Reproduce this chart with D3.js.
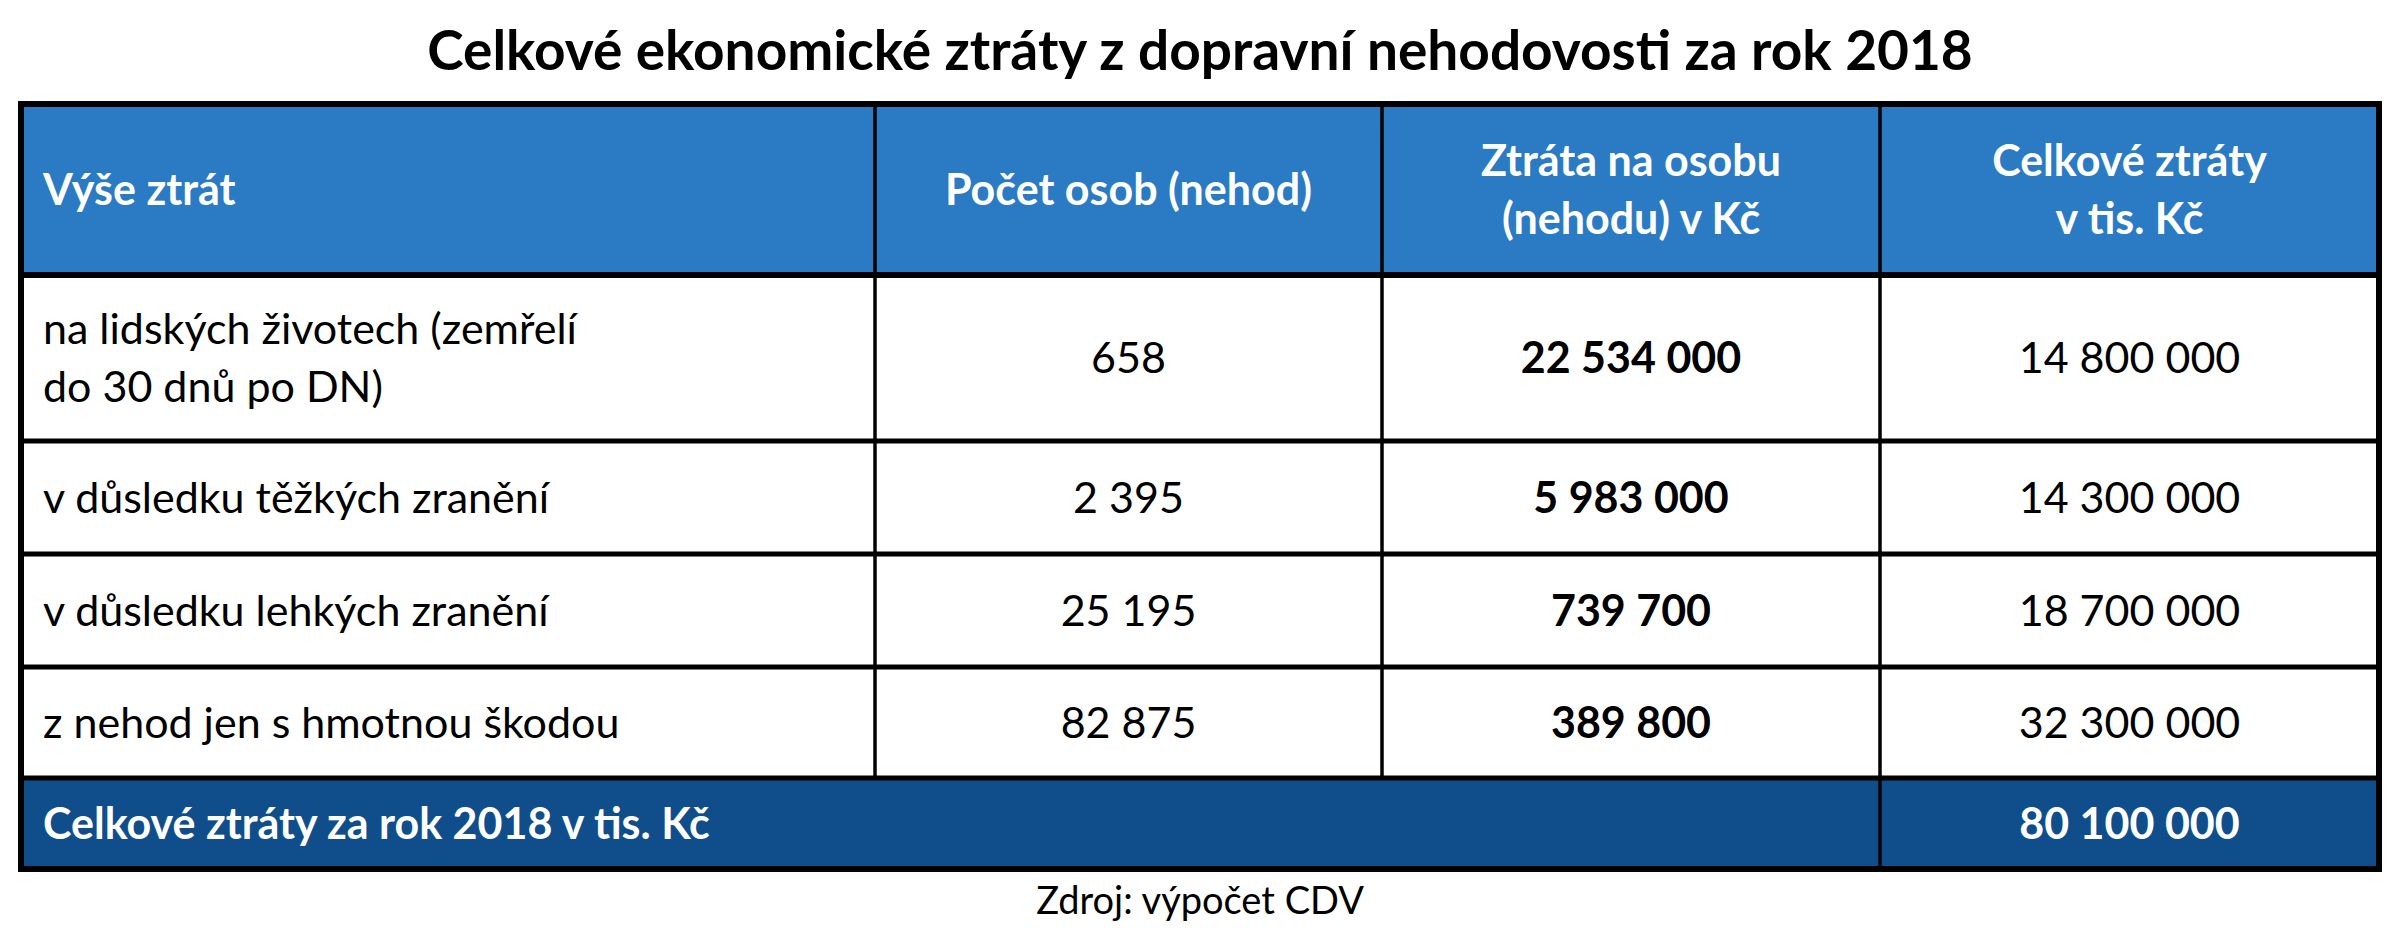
<!DOCTYPE html>
<html>
<head>
<meta charset="utf-8">
<script src="https://cdn.jsdelivr.net/npm/d3@7"></script>
<style>
  body { margin: 0; background: #fff; }
  text { font-family: Lato, "Open Sans", sans-serif; }
</style>
</head>
<body>
<div id="chart"></div>
<script>
const title = 'Celkové ekonomické ztráty z dopravní nehodovosti za rok 2018';
const source = 'Zdroj: výpočet CDV';
const headers = [['Výše ztrát'], ['Počet osob (nehod)'], ['Ztráta na osobu', '(nehodu) v Kč'], ['Celkové ztráty', 'v tis. Kč']];
const categories = [['na lidských životech (zemřelí', 'do 30 dnů po DN)'], ['v důsledku těžkých zranění'], ['v důsledku lehkých zranění'], ['z nehod jen s hmotnou škodou']];
const persons = [658, 2395, 25195, 82875];
const lossPerPerson = [22534000, 5983000, 739700, 389800];
const totalLoss = [14800000, 14300000, 18700000, 32300000];
const totalLabel = 'Celkové ztráty za rok 2018 v tis. Kč';
const grandTotal = 80100000;

const W = 2400, H = 943;
const colEdges = [21, 875, 1382, 1880, 2379];
const rowEdges = [104, 275, 441, 554, 667, 778, 869];
const fmt = v => d3.format(',')(v).replace(/,/g, ' ');

const svg = d3.select('#chart').append('svg').attr('width', W).attr('height', H);

svg.append('text').attr('x', W / 2).attr('y', 70).attr('text-anchor', 'middle')
  .style('font-size', '55px').style('font-weight', 'bold').text(title);

const yRow = d3.scaleOrdinal().domain(d3.range(7)).range(rowEdges);

// header and total backgrounds
svg.append('rect').attr('x', colEdges[0]).attr('y', yRow(0)).attr('width', colEdges[4] - colEdges[0])
  .attr('height', yRow(1) - yRow(0)).attr('fill', '#2a7bc4');
svg.append('rect').attr('x', colEdges[0]).attr('y', yRow(5)).attr('width', colEdges[4] - colEdges[0])
  .attr('height', yRow(6) - yRow(5)).attr('fill', '#104e8b');

function cell(lines, col, row, opts) {
  const x0 = colEdges[col], x1 = colEdges[col + 1];
  const cy = (yRow(row) + yRow(row + 1)) / 2;
  const lh = 58;
  const t = svg.append('text')
    .attr('text-anchor', opts.left ? 'start' : 'middle')
    .attr('fill', opts.color || '#000')
    .style('font-size', '43px')
    .style('font-weight', opts.bold ? 'bold' : 'normal');
  lines.forEach((l, i) => {
    t.append('tspan').attr('x', opts.left ? x0 + 22 : (x0 + x1) / 2)
      .attr('y', cy + (i - (lines.length - 1) / 2) * lh + 15).text(l);
  });
}

headers.forEach((h, i) => cell(h, i, 0, { left: i === 0, bold: true, color: '#fff' }));
categories.forEach((c, r) => {
  cell(c, 0, r + 1, { left: true });
  cell([fmt(persons[r])], 1, r + 1, {});
  cell([fmt(lossPerPerson[r])], 2, r + 1, { bold: true });
  cell([fmt(totalLoss[r])], 3, r + 1, {});
});
cell([totalLabel], 0, 5, { left: true, bold: true, color: '#fff' });
cell([fmt(grandTotal)], 3, 5, { bold: true, color: '#fff' });

// grid lines
const g = svg.append('g').attr('stroke', '#000');
d3.range(1, 6).forEach(r => g.append('line').attr('x1', colEdges[0]).attr('x2', colEdges[4])
  .attr('y1', yRow(r)).attr('y2', yRow(r)).attr('stroke-width', r === 1 ? 6 : 5));
[1, 2].forEach(c => g.append('line').attr('x1', colEdges[c]).attr('x2', colEdges[c])
  .attr('y1', yRow(0)).attr('y2', yRow(5)).attr('stroke-width', 3.5));
g.append('line').attr('x1', colEdges[3]).attr('x2', colEdges[3])
  .attr('y1', yRow(0)).attr('y2', yRow(6)).attr('stroke-width', 3.5);
g.append('rect').attr('x', colEdges[0]).attr('y', yRow(0)).attr('width', colEdges[4] - colEdges[0])
  .attr('height', yRow(6) - yRow(0)).attr('fill', 'none').attr('stroke-width', 6);

svg.append('text').attr('x', W / 2).attr('y', 914).attr('text-anchor', 'middle')
  .style('font-size', '38px').text(source);
</script>
</body>
</html>
